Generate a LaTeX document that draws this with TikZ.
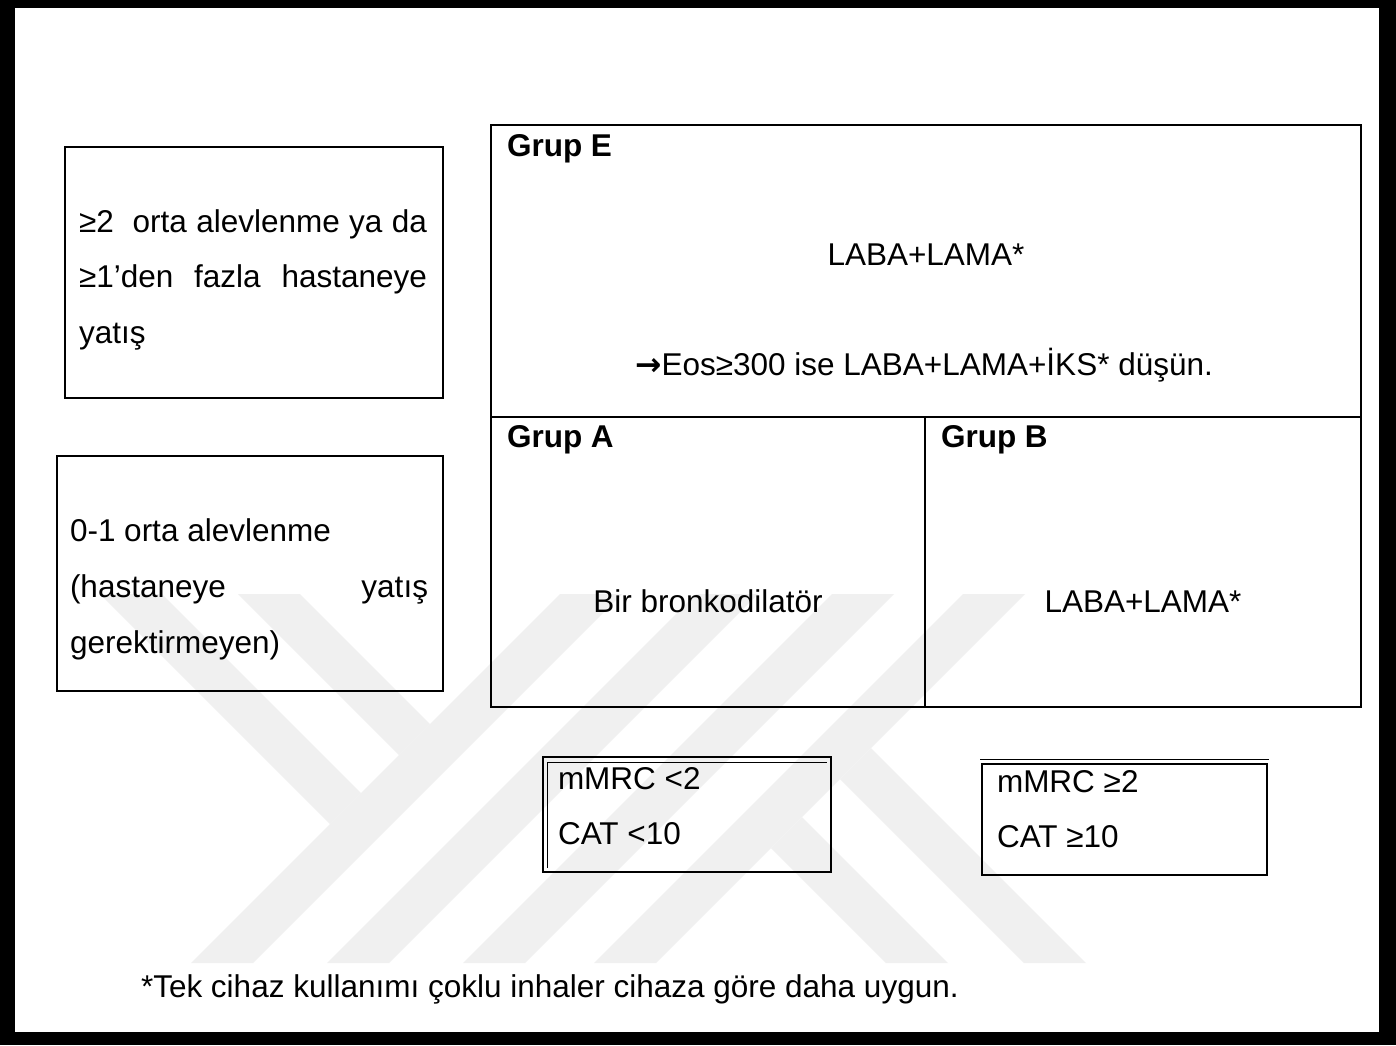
\documentclass[tikz,border=0pt]{standalone}
\usepackage{fontspec}
\setmainfont{Liberation Sans}
\newfontfamily\arrowfont{DejaVu Sans}
\begin{document}
\begin{tikzpicture}[x=0.5pt,y=-0.5pt,
  every node/.style={inner sep=0pt, outer sep=0pt, font=\fontsize{15.75}{18}\selectfont},
  lbl/.style={anchor=base west},
  ctr/.style={anchor=base},
  head/.style={anchor=base west, font=\fontsize{15.75}{18}\selectfont\bfseries},
  frame/.style={draw=black, line width=1pt},
  critbox/.style={draw=black, line width=1.4pt},
  hairline/.style={draw=black, line width=0.5pt},
  wm/.style={fill=black!6, draw=none},
]
\useasboundingbox (0,0) rectangle (1396,1045);
% heavy outer frame
\fill[black] (0,0) rectangle (1396,1045);
\fill[white] (15,8) rectangle (1379,1032);

% background emblem made of diagonal stripes
\fill[wm] (191,963) -- (253,963) -- (622,594) -- (560,594) -- cycle;
\fill[wm] (327,963) -- (389,963) -- (758,594) -- (696,594) -- cycle;
\fill[wm] (463,963) -- (525,963) -- (894,594) -- (832,594) -- cycle;
\fill[wm] (594,963) -- (656,963) -- (1025,594) -- (963,594) -- cycle;
\fill[wm] (238,594) -- (300,594) -- (430,724) -- (399,755) -- cycle;
\fill[wm] (100,594) -- (162,594) -- (361,793) -- (330,824) -- cycle;
\fill[wm] (802,817) -- (948,963) -- (886,963) -- (771,848) -- cycle;
\fill[wm] (871,748) -- (1086,963) -- (1024,963) -- (840,779) -- cycle;

% row labels
\draw[frame] (65,147) rectangle (443,398);
\node[lbl] (e1) at (79,232) {\makebox[174pt][s]{≥2\ \ orta alevlenme ya da}};
\node[lbl] (e2) at (79,287) {\makebox[174pt][s]{≥1’den fazla hastaneye}};
\node[lbl] (e3) at (79,343) {yatış};

\draw[frame] (57,456) rectangle (443,691);
\node[lbl] (m1) at (70,541) {0-1 orta alevlenme};
\node[lbl] (m2) at (70,597) {\makebox[179pt][s]{(hastaneye yatış}};
\node[lbl] (m3) at (70,653) {gerektirmeyen)};

% group grid
\draw[frame] (491,125) rectangle (1361,707);
\draw[frame] (491,417) -- (1361,417);
\draw[frame] (925,417) -- (925,707);

\node[head] (gE) at (507,156) {Grup E};
\node[ctr] (tE1) at (926,265) {LABA+LAMA*};
\node[ctr] (tE2) at (924,375) {{\arrowfont\bfseries →}Eos≥300 ise LABA+LAMA+İKS* düşün.};
\node[head] (gA) at (507,447) {Grup A};
\node[ctr] (tA) at (708,612) {Bir bronkodilatör};
\node[head] (gB) at (941,447) {Grup B};
\node[ctr] (tB) at (1143,612) {LABA+LAMA*};

% symptom criteria
\draw[critbox] (543,757) rectangle (831,872);
\draw[hairline] (547,868) -- (547,762) -- (827,762);
\node[lbl] (s1) at (558,789) {mMRC <2};
\node[lbl] (s2) at (558,844) {CAT <10};

\draw[critbox] (982,764) rectangle (1267,875);
\draw[hairline] (980,759) -- (1269,759);
\node[lbl] (s3) at (997,792) {mMRC ≥2};
\node[lbl] (s4) at (997,847) {CAT ≥10};

% footnote
\node[lbl] (fn) at (141,997) {*Tek cihaz kullanımı çoklu inhaler cihaza göre daha uygun.};
\end{tikzpicture}
\end{document}
